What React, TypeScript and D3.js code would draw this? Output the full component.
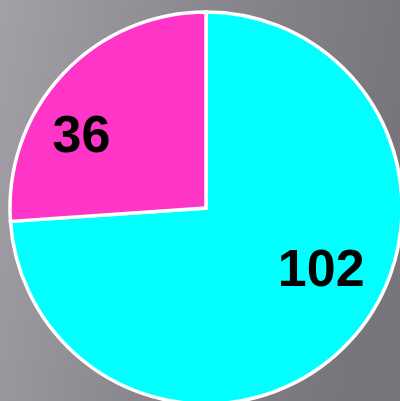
import { useEffect, useRef } from 'react';
import * as d3 from 'd3';

const categories = ['A', 'B'];
const values = [102, 36];
const sliceColors = ['#00ffff', '#ff35c8'];

export default function App() {
  const svgRef = useRef<SVGSVGElement>(null);

  useEffect(() => {
    if (!svgRef.current) return;
    const width = 400;
    const height = 401;
    const cx = 206;
    const cy = 208;
    const radius = 196;

    const svg = d3.select(svgRef.current);
    svg.selectAll('*').remove();

    const defs = svg.append('defs');
    const grad = defs
      .append('linearGradient')
      .attr('id', 'bg')
      .attr('x1', '0%')
      .attr('y1', '0%')
      .attr('x2', '100%')
      .attr('y2', '20%');
    grad.append('stop').attr('offset', '0%').attr('stop-color', '#a3a1a7');
    grad.append('stop').attr('offset', '50%').attr('stop-color', '#8a888e');
    grad.append('stop').attr('offset', '100%').attr('stop-color', '#78767c');

    svg
      .append('rect')
      .attr('width', width)
      .attr('height', height)
      .attr('fill', 'url(#bg)');

    const g = svg.append('g').attr('transform', `translate(${cx},${cy})`);

    const pie = d3
      .pie<number>()
      .sort(null)
      .value((d) => d);
    const arcs = pie(values);

    const arc = d3.arc<d3.PieArcDatum<number>>().innerRadius(0).outerRadius(radius);

    g.selectAll('path')
      .data(arcs)
      .join('path')
      .attr('d', arc)
      .attr('fill', (_, i) => sliceColors[i])
      .attr('stroke', '#ffffff')
      .attr('stroke-width', 3.5)
      .attr('stroke-linejoin', 'miter');

    // label placement: fraction along each slice, and distance from centre
    const labelFrac = [0.44, 0.37];
    const labelDist = [0.66, 0.74];

    g.selectAll('text')
      .data(arcs)
      .join('text')
      .attr('transform', (d, i) => {
        const a = d.startAngle + (d.endAngle - d.startAngle) * labelFrac[i];
        const r = radius * labelDist[i];
        return `translate(${r * Math.sin(a)},${-r * Math.cos(a)})`;
      })
      .attr('text-anchor', 'middle')
      .attr('dy', '0.36em')
      .attr('font-family', '"Liberation Sans", Arial, sans-serif')
      .attr('font-weight', 'bold')
      .attr('font-size', 52)
      .attr('fill', '#000000')
      .text((d) => String(d.data));

    void categories;
  }, []);

  return (
    <svg
      ref={svgRef}
      width={400}
      height={401}
      style={{ position: 'absolute', left: 0, top: 0, display: 'block' }}
    />
  );
}
